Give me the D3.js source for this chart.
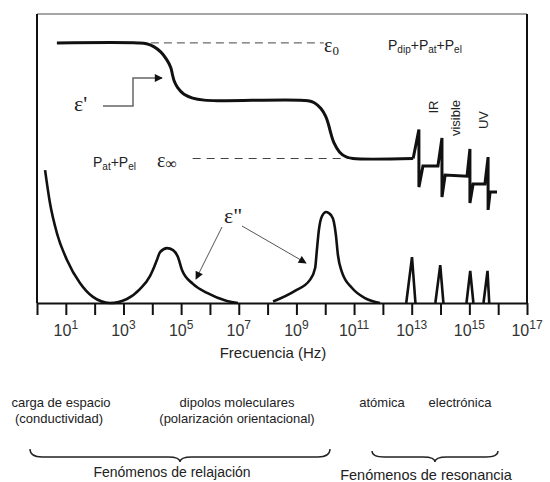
<!DOCTYPE html>
<html>
<head>
<meta charset="utf-8">
<script src="https://cdn.jsdelivr.net/npm/d3@7"></script>
<style>
  body { margin: 0; background: #fff; }
  text { font-family: "Liberation Sans", Arial, sans-serif; fill: #222; }
  .greek { font-family: "Liberation Serif", "Times New Roman", serif; }
</style>
</head>
<body>
<svg id="chart" width="550" height="482"></svg>
<script>
// Frequency axis: exponents n of 10^n Hz
const tickExponents = d3.range(0, 18);
const labelExponents = [1, 3, 5, 7, 9, 11, 13, 15, 17];

// ε' – relaxation steps (log10 f, relative value)
const realRelaxLogF  = [0.69, 3.50, 3.80, 4.05, 4.30, 4.50, 4.64, 4.70, 4.76, 4.88, 5.10, 5.40, 5.80, 6.45, 9.40, 9.62, 9.85, 10.02, 10.12, 10.20, 10.30, 10.50, 10.72, 10.96, 13.05];
const realRelaxValue = [9.00, 9.00, 8.97, 8.87, 8.68, 8.42, 8.15, 7.90, 7.68, 7.45, 7.22, 7.09, 7.02, 7.00, 7.00, 6.93, 6.73, 6.45, 6.15, 5.85, 5.55, 5.22, 5.06, 5.00, 5.00];

// ε' – resonance region (IR, visible, UV)
const realResLogF  = [13.05, 13.25, 13.25, 13.39, 13.91, 14.05, 14.05, 14.16, 14.92, 15.02, 15.02, 15.13, 15.54, 15.65, 15.65, 15.72, 15.96];
const realResValue = [5.00, 6.00, 4.01, 4.74, 4.74, 5.71, 3.67, 4.43, 4.39, 5.33, 3.46, 4.12, 4.12, 5.05, 3.22, 3.84, 3.84];

// ε'' – space charge (conductivity) and first relaxation peak
const lossLowLogF  = [0.28, 0.45, 0.69, 1.04, 1.49, 1.94, 2.53, 3.12, 3.57, 3.92, 4.02, 4.16, 4.27, 4.51, 4.72, 4.89, 5.03, 5.41, 5.90, 6.59, 6.97];
const lossLowValue = [4.60, 3.46, 2.42, 1.49, 0.69, 0.21, 0.00, 0.14, 0.48, 0.93, 1.14, 1.49, 1.76, 1.90, 1.83, 1.59, 1.14, 0.66, 0.35, 0.07, 0.00];

// ε'' – molecular dipole peak
const lossDipLogF  = [8.19, 8.95, 9.47, 9.65, 9.71, 9.78, 9.89, 10.03, 10.20, 10.30, 10.37, 10.44, 10.58, 10.93, 11.38, 11.90];
const lossDipValue = [0.05, 0.42, 0.80, 1.21, 1.83, 2.53, 3.01, 3.15, 3.04, 2.80, 2.35, 1.66, 1.07, 0.52, 0.17, 0.00];

// ε'' – resonance absorption lines
const resPeakLogF  = [13.01, 13.99, 15.03, 15.63];
const resPeakValue = [1.59, 1.31, 1.11, 1.11];
const resFootLow   = [12.81, 13.82, 14.90, 15.49];
const resFootHigh  = [13.13, 14.10, 15.14, 15.69];

const svg = d3.select("#chart");
const x = d3.scaleLinear().domain([0, 17]).range([37, 527]);
const y = d3.scaleLinear().domain([0, 10]).range([303, 14]);

const zip = (a, b) => a.map((d, i) => [d, b[i]]);
const smooth = d3.line().x(d => x(d[0])).y(d => y(d[1])).curve(d3.curveMonotoneX);
const rounded = d3.line().x(d => x(d[0])).y(d => y(d[1])).curve(d3.curveCatmullRom.alpha(0.5));
const straight = d3.line().x(d => x(d[0])).y(d => y(d[1]));

// arrowhead marker
const defs = svg.append("defs");
defs.append("marker")
  .attr("id", "head").attr("viewBox", "0 0 10 10")
  .attr("refX", 9).attr("refY", 5)
  .attr("markerWidth", 10).attr("markerHeight", 8)
  .attr("markerUnits", "userSpaceOnUse")
  .attr("orient", "auto")
  .append("path").attr("d", "M0,0 L10,5 L0,10 Z").attr("fill", "#111");

// frame
svg.append("line").attr("x1", x(0)).attr("x2", x(17)).attr("y1", y(10)).attr("y2", y(10))
  .attr("stroke", "#888").attr("stroke-width", 1.5);
svg.append("line").attr("x1", x(0)).attr("x2", x(0)).attr("y1", y(10)).attr("y2", y(0))
  .attr("stroke", "#111").attr("stroke-width", 2);
svg.append("line").attr("x1", x(17)).attr("x2", x(17)).attr("y1", y(10)).attr("y2", y(0))
  .attr("stroke", "#111").attr("stroke-width", 2);

// bottom axis
const axis = svg.append("g").attr("transform", `translate(0,${y(0)})`)
  .call(d3.axisBottom(x).tickValues(tickExponents).tickSize(12).tickSizeOuter(0).tickFormat(""));
axis.select(".domain").attr("stroke", "#111").attr("stroke-width", 2);
axis.selectAll(".tick line").attr("stroke", "#111").attr("stroke-width", 2);

const lbl = svg.append("g").selectAll("text").data(labelExponents).join("text")
  .attr("x", d => x(d)).attr("y", 336)
  .attr("text-anchor", "middle").attr("font-size", 16).style("fill", "#333");
lbl.append("tspan").text("10");
lbl.append("tspan").attr("dy", -7).attr("font-size", 12).text(d => d);

svg.append("text").attr("x", 273).attr("y", 358).attr("text-anchor", "middle")
  .attr("font-size", 15).text("Frecuencia (Hz)");

// reference levels ε0 and ε∞
svg.append("line").attr("x1", x(3.5)).attr("x2", x(9.95)).attr("y1", y(9)).attr("y2", y(9))
  .attr("stroke", "#444").attr("stroke-width", 1).attr("stroke-dasharray", "8,5");
svg.append("line").attr("x1", x(5.4)).attr("x2", x(10.96)).attr("y1", y(5)).attr("y2", y(5))
  .attr("stroke", "#444").attr("stroke-width", 1).attr("stroke-dasharray", "8,6");

// ε' curve
svg.append("path").attr("d", rounded(zip(realRelaxLogF, realRelaxValue)))
  .attr("fill", "none").attr("stroke", "#111").attr("stroke-width", 3);
svg.append("path").attr("d", straight(zip(realResLogF, realResValue)))
  .attr("fill", "none").attr("stroke", "#111").attr("stroke-width", 3).attr("stroke-linejoin", "miter");

// ε'' curves
svg.append("path").attr("d", smooth(zip(lossLowLogF, lossLowValue)))
  .attr("fill", "none").attr("stroke", "#111").attr("stroke-width", 2.6);
svg.append("path").attr("d", smooth(zip(lossDipLogF, lossDipValue)))
  .attr("fill", "none").attr("stroke", "#111").attr("stroke-width", 2.6);
svg.append("g").selectAll("path").data(resPeakLogF).join("path")
  .attr("d", (d, i) => straight([[resFootLow[i], 0], [d, resPeakValue[i]], [resFootHigh[i], 0]]))
  .attr("fill", "none").attr("stroke", "#111").attr("stroke-width", 2.6);

// ε' pointer
svg.append("path").attr("d", "M103,106 H133 V78 H162")
  .attr("fill", "none").attr("stroke", "#666").attr("stroke-width", 1.5)
  .attr("marker-end", "url(#head)");
svg.append("text").attr("class", "greek").attr("x", 74).attr("y", 111).attr("font-size", 22).text("ε'");

// ε'' pointers
svg.append("line").attr("x1", 222).attr("y1", 227).attr("x2", 196).attr("y2", 279)
  .attr("stroke", "#555").attr("stroke-width", 1).attr("marker-end", "url(#head)");
svg.append("line").attr("x1", 242).attr("y1", 226).attr("x2", 306).attr("y2", 263)
  .attr("stroke", "#555").attr("stroke-width", 1).attr("marker-end", "url(#head)");
svg.append("text").attr("class", "greek").attr("x", 224).attr("y", 223).attr("font-size", 22).text("ε\"");

// ε0 and ε∞ labels
const e0 = svg.append("text").attr("class", "greek").attr("x", 324).attr("y", 52);
e0.append("tspan").attr("font-size", 20).text("ε");
e0.append("tspan").attr("font-size", 13).attr("dy", 3).text("0");

const einf = svg.append("text").attr("class", "greek").attr("x", 157).attr("y", 167);
einf.append("tspan").attr("font-size", 20).text("ε");
einf.append("tspan").attr("font-size", 16).attr("dy", 2).text("∞");

// polarisation contributions
function polLabel(xp, yp, parts) {
  const t = svg.append("text").attr("x", xp).attr("y", yp);
  parts.forEach(([main, sub], i) => {
    t.append("tspan").attr("font-size", 14).attr("dy", i === 0 ? 0 : -3).text(main);
    t.append("tspan").attr("font-size", 10).attr("dy", 3).text(sub);
  });
}
polLabel(388, 50, [["P", "dip"], ["+P", "at"], ["+P", "el"]]);
polLabel(93, 167, [["P", "at"], ["+P", "el"]]);

// spectral regions
[["IR", 438, 107], ["visible", 460, 118], ["UV", 488, 120]].forEach(([s, xp, yp]) => {
  svg.append("text").attr("transform", `translate(${xp},${yp}) rotate(-90)`)
    .attr("text-anchor", "middle").attr("font-size", 13).text(s);
});

// mechanisms
const mech = [
  ["carga de espacio", 61, 407], ["(conductividad)", 59, 423],
  ["dipolos moleculares", 237, 407], ["(polarización orientacional)", 237, 423],
  ["atómica", 382, 407], ["electrónica", 460, 407]
];
svg.append("g").selectAll("text").data(mech).join("text")
  .attr("x", d => d[1]).attr("y", d => d[2]).attr("text-anchor", "middle")
  .attr("font-size", 13).text(d => d[0]);

// braces
function brace(x1, x2, xm, y0, y1, y2, r) {
  return `M${x1},${y0} Q${x1},${y1} ${x1 + r},${y1} L${xm - r},${y1} Q${xm},${y1} ${xm},${y2} ` +
         `Q${xm},${y1} ${xm + r},${y1} L${x2 - r},${y1} Q${x2},${y1} ${x2},${y0}`;
}
svg.append("path").attr("d", brace(30, 330, 180, 449, 457, 462, 12))
  .attr("fill", "none").attr("stroke", "#222").attr("stroke-width", 1.4);
svg.append("path").attr("d", brace(372, 498, 435, 451, 457, 462, 12))
  .attr("fill", "none").attr("stroke", "#222").attr("stroke-width", 1.4);

svg.append("text").attr("x", 172).attr("y", 477).attr("text-anchor", "middle")
  .attr("font-size", 14).text("Fenómenos de relajación");
svg.append("text").attr("x", 426).attr("y", 480).attr("text-anchor", "middle")
  .attr("font-size", 14.5).text("Fenómenos de resonancia");
</script>
</body>
</html>
